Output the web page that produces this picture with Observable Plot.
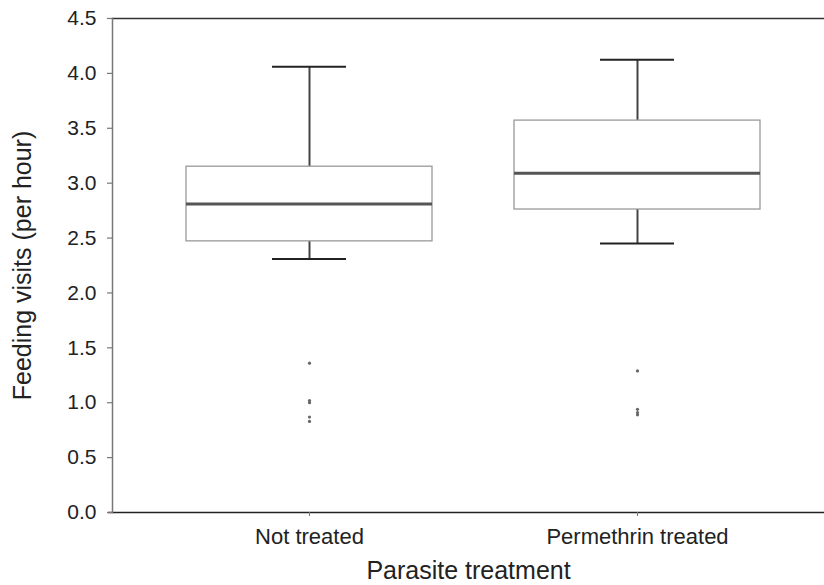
<!DOCTYPE html>
<html>
<head>
<meta charset="utf-8">
<script src="https://cdn.jsdelivr.net/npm/d3@7"></script>
<script src="https://cdn.jsdelivr.net/npm/@observablehq/plot@0.6"></script>
<style>
  html, body { margin: 0; padding: 0; background: #fff; }
  svg { display: block; }
</style>
</head>
<body>
<div id="chart"></div>
<script>
const categories = ["Not treated", "Permethrin treated"];
const whiskerLow = [2.31, 2.45];
const q1 = [2.47, 2.76];
const median = [2.81, 3.09];
const q3 = [3.15, 3.57];
const whiskerHigh = [4.06, 4.125];
const outlierGroup = ["Not treated", "Not treated", "Not treated", "Not treated", "Not treated",
                      "Permethrin treated", "Permethrin treated", "Permethrin treated", "Permethrin treated"];
const outlierValue = [1.36, 1.02, 1.0, 0.87, 0.83, 1.29, 0.94, 0.91, 0.89];
const yTicks = [0, 0.5, 1.0, 1.5, 2.0, 2.5, 3.0, 3.5, 4.0, 4.5];
const xTitle = "Parasite treatment";
const yTitle = "Feeding visits (per hour)";

const boxes = categories.map((c, i) => ({
  cat: c, lo: whiskerLow[i], q1: q1[i], med: median[i], q3: q3[i], hi: whiskerHigh[i]
}));
const outliers = outlierGroup.map((g, i) => ({cat: g, v: outlierValue[i]}));

const font = "'Liberation Sans', Arial, Helvetica, sans-serif";

const chart = Plot.plot({
  width: 824,
  height: 585,
  marginLeft: 112,
  marginRight: 0,
  marginTop: 18,
  marginBottom: 73,
  style: {fontFamily: font, fontSize: "21px", color: "#222", background: "#fff"},
  x: {type: "band", domain: categories, range: [112, 834], paddingInner: 0, paddingOuter: 0.1006, round: false},
  y: {domain: [0, 4.5]},
  marks: [
    Plot.ruleY([4.5], {stroke: "#333", strokeWidth: 1.5}),
    Plot.ruleY([0], {stroke: "#222", strokeWidth: 1.5, insetLeft: -4}),
    Plot.frame({anchor: "left", stroke: "#777", strokeWidth: 1.5}),
    Plot.axisY({
      ticks: yTicks, tickFormat: d3.format(".1f"), tickSize: 5, tickPadding: 11,
      fontSize: 21, stroke: "#777", strokeWidth: 1.2, label: null
    }),
    Plot.axisX({
      tickSize: 4, tickPadding: 12, fontSize: 22, stroke: "#777", label: null
    }),
    Plot.text([xTitle], {frameAnchor: "bottom", text: d => d, dy: 58, textAnchor: "middle", lineAnchor: "middle", fontSize: 25, fill: "#222"}),
    Plot.text([yTitle], {frameAnchor: "left", text: d => d, dx: -90, rotate: -90, textAnchor: "middle", lineAnchor: "middle", fontSize: 25, fill: "#222"}),
    Plot.ruleX(boxes, {x: "cat", y1: "lo", y2: "q1", stroke: "#444", strokeWidth: 2}),
    Plot.ruleX(boxes, {x: "cat", y1: "q3", y2: "hi", stroke: "#444", strokeWidth: 2}),
    Plot.tickY(boxes, {x: "cat", y: "lo", stroke: "#222", strokeWidth: 2, insetLeft: 127, insetRight: 127}),
    Plot.tickY(boxes, {x: "cat", y: "hi", stroke: "#222", strokeWidth: 2, insetLeft: 127, insetRight: 127}),
    Plot.barY(boxes, {x: "cat", y1: "q1", y2: "q3", fill: "#fff", stroke: "#999", strokeWidth: 1.3, insetLeft: 41, insetRight: 41}),
    Plot.tickY(boxes, {x: "cat", y: "med", stroke: "#555", strokeWidth: 3, insetLeft: 41, insetRight: 41}),
    Plot.dot(outliers, {x: "cat", y: "v", r: 1.6, fill: "#666", stroke: "none"})
  ]
});

chart.querySelectorAll("text").forEach(t => t.setAttribute("fill", "#222"));
document.getElementById("chart").appendChild(chart);
</script>
</body>
</html>
